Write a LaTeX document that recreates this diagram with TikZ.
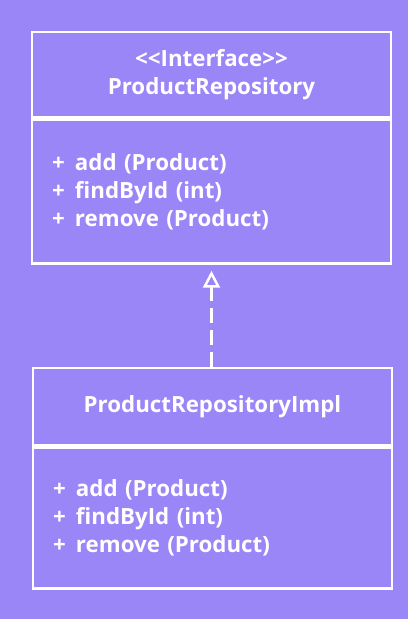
\documentclass[tikz,border=0pt]{standalone}
\usepackage{fontspec}
\setmainfont{Open Sans}
\usetikzlibrary{positioning,arrows.meta}
\definecolor{bgviolet}{HTML}{9A86F7}
\newcommand{\meth}[1]{\makebox[23pt][l]{+}#1}

\begin{document}
\begin{tikzpicture}[
  x=1pt, y=1pt,
  font=\fontsize{22.3}{28}\selectfont\bfseries,
  hdr/.style={draw=white, line width=2.5pt, text=white, align=center,
              minimum width=359pt, inner sep=0pt},
  body/.style={draw=white, line width=2.5pt, text=white, align=left,
               text width=319pt, inner xsep=20pt, inner ysep=0pt},
  realize/.style={-{Triangle[open, length=17pt, width=17pt]}, draw=white,
                  line width=2.5pt, dash pattern=on 15pt off 7pt},
]
\fill[bgviolet] (0,0) rectangle (408,619);
\useasboundingbox (0,0) rectangle (408,619);

% ─── interface (top) ───────────────────────────────────────────────────────
\node[hdr, minimum height=85pt] (ifhead) at (211.5,544.5)
  {<{}<Interface>{}>\\ProductRepository};
\node[body, minimum height=144pt, anchor=north] (ifbody) at (ifhead.south)
  {\meth{add (Product)}\\\meth{findById (int)}\\\meth{remove (Product)}};

% ─── implementation (bottom) ───────────────────────────────────────────────
\node[hdr, minimum height=77pt] (imhead) at (212.5,212.5)
  {ProductRepositoryImpl};
\node[body, minimum height=141pt, anchor=north] (imbody) at (imhead.south)
  {\meth{add (Product)}\\\meth{findById (int)}\\\meth{remove (Product)}};

\draw[realize, shorten >=6pt] (imhead.north -| ifbody.south) -- (ifbody.south);

\end{tikzpicture}
\end{document}
